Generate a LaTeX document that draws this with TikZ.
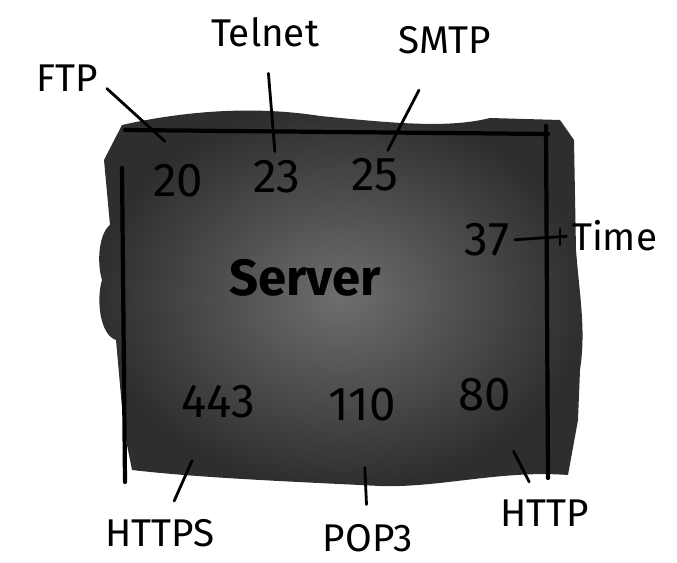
\documentclass[tikz,border=0pt]{standalone}
\usepackage{fontspec}
\setmainfont{Fira Sans}
\usepackage{tikz}
\usetikzlibrary{arrows.meta}

\tikzset{
    port/.style={font=\fontsize{27}{27}\selectfont, inner sep=1pt},
    proto/.style={font=\fontsize{22}{22}\selectfont, inner sep=1pt},
    link/.style={line width=1.6pt, line cap=round},
    edge/.style={line width=2.4pt, line cap=round}
}

\begin{document}
\begin{tikzpicture}[x=0.02cm, y=-0.02cm]
    \useasboundingbox (0,0) rectangle (677,563);

    % Server box: rough shaded blob
    \shade[inner color=black!57, outer color=black!82]
        (122,125) .. controls (180,112) and (250,105) .. (320,116)
        .. controls (400,124) and (450,128) .. (490,118)
        -- (560,120) -- (574,140) -- (576,250)
        .. controls (580,300) and (586,330) .. (580,370)
        -- (578,420) -- (568,475)
        .. controls (500,470) and (440,488) .. (380,486)
        .. controls (300,482) and (200,478) .. (132,470)
        -- (124,430) -- (116,340)
        .. controls (100,335) and (96,300) .. (102,280)
        .. controls (96,260) and (100,232) .. (110,225)
        -- (104,160) -- cycle;

    % Sketched edges
    \draw[edge] (125,130) -- (548,134);
    \draw[edge] (546,126) -- (548,478);
    \draw[edge] (122,168) -- (125,482);

    % Ports on the server
    \node[port] (p20) at (178,181) {20};
    \node[port] (p23) at (277,177) {23};
    \node[port] (p25) at (375,175) {25};
    \node[port] (p37) at (487,240) {37};
    \node[port] (p443) at (218,402) {443};
    \node[port] (p110) at (362,405) {110};
    \node[port] (p80) at (485,395) {80};
    \node[font=\fontsize{29}{29}\selectfont\bfseries] (srv) at (305,278) {Server};

    % Protocol names
    \node[proto] (ftp) at (67,78) {FTP};
    \node[proto] (telnet) at (265,32) {Telnet};
    \node[proto] (smtp) at (445,40) {SMTP};
    \node[proto, anchor=west] (time) at (570,236) {Time};
    \node[proto] (https) at (160,533) {HTTPS};
    \node[proto] (pop3) at (368,538) {POP3};
    \node[proto] (http) at (545,513) {HTTP};

    % Links from names to ports
    \draw[link] ([xshift=4pt, yshift=-6pt]ftp.east) -- ([xshift=8pt, yshift=12pt]p20.north west);
    \draw[link, shorten <=14pt, shorten >=4pt] (telnet) -- (p23);
    \draw[link, shorten <=22pt, shorten >=4pt] (smtp) -- (p25);
    \draw[link, shorten <=2pt, shorten >=2pt] (time.west) -- (p37.east);
    \draw[link] (560,229) -- (560,245);
    \draw[link, shorten <=25pt, shorten >=10pt] (p443) -- (https);
    \draw[link, shorten <=25pt, shorten >=10pt] (p110) -- (pop3);
    \draw[link, shorten <=24pt, shorten >=10pt] (p80) -- (http);
\end{tikzpicture}
\end{document}
